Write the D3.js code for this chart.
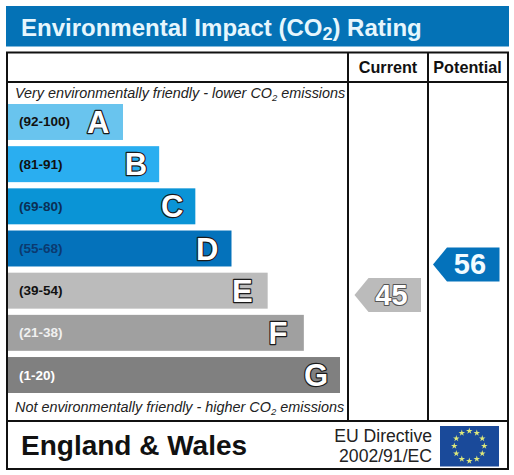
<!DOCTYPE html>
<html><head><meta charset="utf-8">
<script src="https://cdn.jsdelivr.net/npm/d3@7/dist/d3.min.js"></script>
<style>html,body{margin:0;padding:0;background:#fff}svg{display:block}text{font-family:"Liberation Sans",Arial,sans-serif}</style>
</head><body><svg id="c" width="514" height="475"></svg>
<script>
const bands=["A","B","C","D","E","F","G"];
const rangeLabels=["(92-100)","(81-91)","(69-80)","(55-68)","(39-54)","(21-38)","(1-20)"];
const bandTop=[100,91,80,68,54,38,20];
const bandBottom=[92,81,69,55,39,21,1];
const bandSteps=[1,2,3,4,5,6,7];
const bandColors=["#69c4ee","#2aaef0","#0a94d6","#0472bb","#bbbbbb","#a0a0a0","#808080"];
const rangeColors=["#111","#111","#0b2f55","#0b3a70","#111","#f0f0f0","#fff"];
const currentRating=45, potentialRating=56;
const title="Environmental Impact (CO", columns=["Current","Potential"];

const svg=d3.select("#c");
const y=d3.scaleBand().domain(bands).range([104,393]).paddingInner(0.147).paddingOuter(0);
const x=d3.scaleLinear().domain([1,7]).range([123,340]);
// rating position: linear inside each band's bar
const rDom=[],rRng=[];
bands.forEach((b,i)=>{rDom.push(bandTop[i],bandBottom[i]);rRng.push(y(b),y(b)+y.bandwidth());});
const ry=d3.scaleLinear().domain(rDom).range(rRng);

const blue="#0472b6";
svg.append("rect").attr("x",6).attr("y",6).attr("width",503).attr("height",40.5).attr("fill",blue);
const t=svg.append("text").attr("x",21).attr("y",35.5).attr("fill","#e6f6fd").attr("font-size",24).attr("font-weight","700");
t.append("tspan").text(title);
t.append("tspan").text("2").attr("font-size",18).attr("dy",4);
t.append("tspan").text(") Rating").attr("dy",-4);

const line=(x1,y1,x2,y2,w)=>svg.append("line").attr("x1",x1).attr("y1",y1).attr("x2",x2).attr("y2",y2).attr("stroke","#111").attr("stroke-width",w);
svg.append("rect").attr("x",7).attr("y",52.5).attr("width",501).attr("height",416.5).attr("fill","#fff").attr("stroke","#111").attr("stroke-width",2);
line(7,82,508,82,2);line(7,421,508,421,2);
line(348,52,348,421,2);line(428,52,428,421,2);

svg.selectAll("text.col").data(columns).join("text").attr("class","col")
 .attr("x",(d,i)=>[388,467.5][i]).attr("y",72.5).attr("text-anchor","middle")
 .attr("font-size",16.2).attr("font-weight","700").attr("fill","#111").text(d=>d);

const note=(yy,a,b)=>{const n=svg.append("text").attr("x",15).attr("y",yy).attr("font-size",14.4).attr("font-style","italic").attr("fill","#222");
 n.append("tspan").text(a);n.append("tspan").text("2").attr("font-size",9.5).attr("dy",3);n.append("tspan").text(b).attr("dy",-3);};
note(98,"Very environmentally friendly - lower CO"," emissions");
note(412,"Not environmentally friendly - higher CO"," emissions");

const g=svg.selectAll("g.bar").data(bands).join("g").attr("class","bar");
g.append("rect").attr("x",8).attr("y",d=>y(d)).attr("height",y.bandwidth())
 .attr("width",(d,i)=>x(bandSteps[i])-8).attr("fill",(d,i)=>bandColors[i]);
g.append("text").attr("x",19).attr("y",d=>y(d)+y.bandwidth()/2+4.5).attr("font-size",13.5).attr("font-weight","700")
 .attr("fill",(d,i)=>rangeColors[i]).text((d,i)=>rangeLabels[i]);
g.append("text").attr("x",(d,i)=>x(bandSteps[i])-12-(d==="E"?3:d==="F"?4.5:d==="A"?1.5:d==="D"?1:0)).attr("y",d=>y(d)+y.bandwidth()/2+11).attr("text-anchor","end")
 .attr("font-size",31).attr("font-weight","700").attr("fill","#fff").attr("stroke","#1a1a1a").attr("stroke-width",2.4)
 .attr("stroke-linejoin","round").attr("paint-order","stroke").text(d=>d);

function arrow(val,right,color,fill,stroke){
 const cy=ry(val)+0.8,h=17,tip=right-66.5;
 svg.append("path").attr("d",d3.line()([[tip,cy],[tip+14,cy-h],[right,cy-h],[right,cy+h],[tip+14,cy+h],[tip,cy]])).attr("fill",color);
 svg.append("text").attr("x",right-29.5).attr("y",cy+9.5).attr("text-anchor","middle").attr("font-size",29).attr("font-weight","700")
  .attr("fill",fill).attr("stroke",stroke).attr("stroke-width",stroke=="none"?0:2).attr("stroke-linejoin","round").attr("paint-order","stroke").text(val);
}
arrow(currentRating,421,"#bbbbbb","#fff","#555");
arrow(potentialRating,499.5,"#0472bb","#f2fbff","none");

svg.append("text").attr("x",21).attr("y",455).attr("font-size",28).attr("font-weight","700").attr("fill","#111").text("England & Wales");
svg.selectAll("text.dir").data(["EU Directive","2002/91/EC"]).join("text").attr("class","dir")
 .attr("x",432).attr("y",(d,i)=>[441.5,461.7][i]).attr("text-anchor","end").attr("font-size",17.6).attr("fill","#222").text(d=>d);

svg.append("rect").attr("x",440).attr("y",426).attr("width",59).attr("height",40.5).attr("fill","#1a4a9a");
const stars=d3.range(12);
const sym=d3.symbol().type(d3.symbolStar).size(13);
svg.selectAll("path.star").data(stars).join("path").attr("class","star").attr("d",sym)
 .attr("transform",d=>{const a=d/12*2*Math.PI;return `translate(${469.3+15*Math.sin(a)},${446-15*Math.cos(a)})`}).attr("fill","#dfe97a");
</script></body></html>
